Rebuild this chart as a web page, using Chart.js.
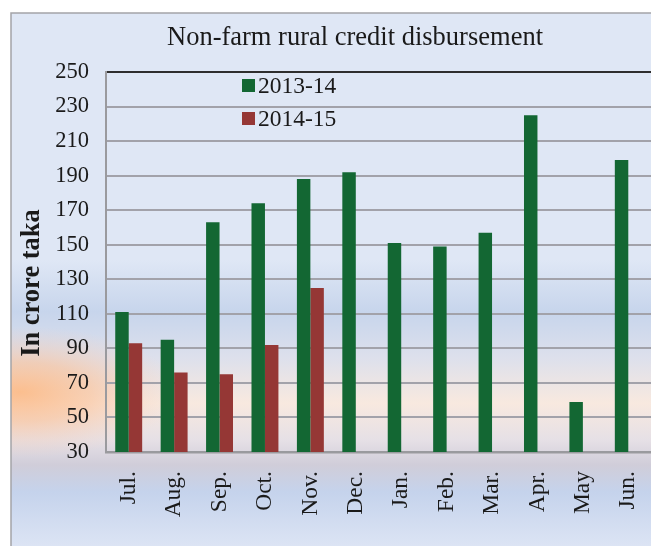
<!DOCTYPE html>
<html>
<head>
<meta charset="utf-8">
<title>Non-farm rural credit disbursement</title>
<script src="https://cdn.jsdelivr.net/npm/chart.js@4.4.0/dist/chart.umd.min.js"></script>
<style>
  html, body { margin: 0; padding: 0; background: #fff; }
  #wrap { width: 651px; height: 546px; }
</style>
</head>
<body>
<div id="wrap"><canvas id="creditChart" width="651" height="546"></canvas></div>
<script>
// values (crore taka)
const months = ['Jul.', 'Aug.', 'Sep.', 'Oct.', 'Nov.', 'Dec.', 'Jan.', 'Feb.', 'Mar.', 'Apr.', 'May', 'Jun.'];
const fy2013_14 = [111, 95, 163, 174, 188, 192, 151, 149, 157, 225, 59, 199];
const fy2014_15 = [93, 76, 75, 92, 125, null, null, null, null, null, null, null];
const seriesNames = ['2013-14', '2014-15'];
const yTicks = [30, 50, 70, 90, 110, 130, 150, 170, 190, 210, 230, 250];

const chartTitle = 'Non-farm rural credit disbursement';
const yAxisTitle = 'In crore taka';

const SERIF = "'Liberation Serif', 'Times New Roman', serif";
const GREEN = '#136733';
const RED = '#953735';
const INK = '#1a1a1a';

// gradient panel behind everything, like the office chart style
const backdrop = {
  id: 'backdrop',
  beforeDraw(chart) {
    const ctx = chart.ctx;
    ctx.save();
    ctx.fillStyle = '#ffffff';
    ctx.fillRect(0, 0, chart.width, chart.height);

    const g = ctx.createLinearGradient(0, 13, 0, 546);
    g.addColorStop(0, '#dfe7f5');
    g.addColorStop((260 - 13) / 533, '#dfe7f5');
    g.addColorStop((312 - 13) / 533, '#c7d5ec');
    g.addColorStop((358 - 13) / 533, '#dde0ec');
    g.addColorStop((403 - 13) / 533, '#f8e9df');
    g.addColorStop((440 - 13) / 533, '#e6e0e6');
    g.addColorStop((465 - 13) / 533, '#d0cdd9');
    g.addColorStop((492 - 13) / 533, '#c5d3ec');
    g.addColorStop(1, '#dce4f4');
    ctx.fillStyle = g;
    ctx.fillRect(11, 13, chart.width, chart.height);

    // orange glow on the left side
    ctx.save();
    ctx.beginPath();
    ctx.rect(11, 13, chart.width, chart.height);
    ctx.clip();
    ctx.translate(20, 392);
    ctx.scale(2.4, 1);
    const r = ctx.createRadialGradient(0, 0, 0, 0, 0, 66);
    r.addColorStop(0, 'rgba(252,188,138,0.95)');
    r.addColorStop(0.45, 'rgba(250,192,150,0.6)');
    r.addColorStop(1, 'rgba(248,210,190,0)');
    ctx.fillStyle = r;
    ctx.beginPath();
    ctx.arc(0, 0, 66, 0, Math.PI * 2);
    ctx.fill();
    ctx.restore();

    ctx.strokeStyle = '#a4a4a8';
    ctx.lineWidth = 1.5;
    ctx.strokeRect(11, 13, chart.width + 20, chart.height + 20);
    ctx.restore();
  }
};

// title, legend and y title are placed where the reference has them
const annotations = {
  id: 'annotations',
  afterDraw(chart) {
    const ctx = chart.ctx;
    ctx.save();
    ctx.fillStyle = INK;
    ctx.textAlign = 'center';
    ctx.textBaseline = 'middle';
    ctx.font = '26.5px ' + SERIF;
    ctx.fillText(chartTitle, 355, 38);

    ctx.font = '23.5px ' + SERIF;
    ctx.textAlign = 'left';
    chart.data.datasets.forEach((ds, i) => {
      const y = 86 + i * 33;
      ctx.fillStyle = ds.backgroundColor;
      ctx.fillRect(242, y - 7, 13, 13);
      ctx.fillStyle = INK;
      ctx.fillText(ds.label, 258, y + 1);
    });

    ctx.translate(32, 283);
    ctx.rotate(-Math.PI / 2);
    ctx.font = 'bold 26.5px ' + SERIF;
    ctx.textAlign = 'center';
    ctx.fillText(yAxisTitle, 0, 0);
    ctx.restore();
  }
};

new Chart(document.getElementById('creditChart'), {
  type: 'bar',
  data: {
    labels: months,
    datasets: [
      { label: seriesNames[0], data: fy2013_14, backgroundColor: GREEN, categoryPercentage: 0.593, barPercentage: 1.0 },
      { label: seriesNames[1], data: fy2014_15, backgroundColor: RED, categoryPercentage: 0.593, barPercentage: 1.0 }
    ]
  },
  options: {
    responsive: false,
    animation: false,
    layout: { padding: { left: 0, right: 0, top: 72, bottom: 0 } },
    plugins: {
      legend: { display: false },
      tooltip: { enabled: false },
      title: { display: false }
    },
    scales: {
      x: {
        afterFit: (scale) => {
          scale.height = 94;
          scale.paddingLeft = 0;
          scale.paddingRight = 0;
        },
        grid: { display: false, drawTicks: false },
        border: { color: '#9a9a9e', width: 2.5 },
        ticks: {
          minRotation: 90,
          maxRotation: 90,
          padding: 19,
          color: INK,
          font: { family: SERIF, size: 23.5 }
        }
      },
      y: {
        min: 30,
        max: 250,
        afterFit: (scale) => { scale.width = 106; },
        afterBuildTicks: (scale) => { scale.ticks = yTicks.map(v => ({ value: v })); },
        grid: {
          drawTicks: false,
          lineWidth: 2,
          color: (c) => (c.tick && c.tick.value === 250 ? '#2e2e2e' : '#a2a2aa')
        },
        border: { color: '#9a9a9e', width: 2 },
        ticks: {
          padding: 17,
          color: INK,
          font: { family: SERIF, size: 22.5 }
        }
      }
    }
  },
  plugins: [backdrop, annotations]
});
</script>
</body>
</html>
